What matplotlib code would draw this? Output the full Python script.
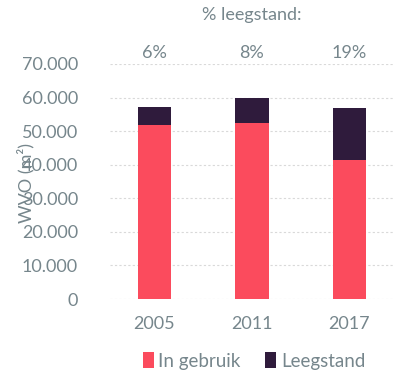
import matplotlib
matplotlib.use("Agg")
import matplotlib.pyplot as plt
from matplotlib.patches import Patch

# Data
years = ["2005", "2011", "2017"]
in_gebruik = [51800, 52500, 41400]
leegstand = [5300, 7400, 15600]
pct_labels = ["6%", "8%", "19%"]
y_ticks = [0, 10000, 20000, 30000, 40000, 50000, 60000, 70000]
y_tick_labels = ["0", "10.000", "20.000", "30.000", "40.000", "50.000", "60.000", "70.000"]

red = "#fb4b5d"
dark = "#2f1b3c"
txt = "#76868c"
font = "Lato"
fw = "normal"
fs = 13

fig = plt.figure(figsize=(3.97, 3.75), dpi=100)
ax = fig.add_axes([110 / 397, 1 - 299 / 375, (393 - 110) / 397, (299 - 64) / 375])

x = list(range(len(years)))
width = 0.34
ax.bar(x, in_gebruik, width=width, color=red, zorder=3)
ax.bar(x, leegstand, width=width, bottom=in_gebruik, color=dark, zorder=3)

ax.set_xlim(-0.456, 2.446)
ax.set_ylim(0, 70000)
ax.set_yticks(y_ticks)
ax.set_yticklabels(y_tick_labels, fontsize=fs, color=txt, family=font, weight=fw)
ax.set_xticks(x)
ax.set_xticklabels(years, fontsize=fs, color=txt, family=font, weight=fw)
ax.tick_params(axis="both", length=0)
ax.tick_params(axis="y", pad=23)
ax.tick_params(axis="x", pad=12)

ax.grid(axis="y", color="#d9d9d9", linestyle=(0, (2, 2)), linewidth=0.8, zorder=0)
for s in ax.spines.values():
    s.set_visible(False)

# vacancy percentages above the bars
for xi, lab in zip(x, pct_labels):
    ax.text(xi, 73300, lab, ha="center", va="center", fontsize=fs,
            color=txt, family=font, weight=fw, clip_on=False)
ax.text(1, 84600, "% leegstand:", ha="center", va="center", fontsize=fs,
        color=txt, family=font, weight=fw, clip_on=False)

fig.text(26 / 397, 1 - 183 / 375, "WVO (m²)", rotation=90, ha="center", va="center",
         fontsize=fs, color=txt, family=font, weight=fw)

handles = [Patch(facecolor=red, label="In gebruik"), Patch(facecolor=dark, label="Leegstand")]
leg = fig.legend(handles=handles, loc="center", bbox_to_anchor=(254 / 397, 1 - 361 / 375),
                 ncol=2, frameon=False, handlelength=0.6, handleheight=0.9,
                 handletextpad=0.25, columnspacing=1.3,
                 prop={"family": font, "size": 13.5, "weight": fw})
for t in leg.get_texts():
    t.set_color(txt)

fig.savefig("out.png", dpi=100, facecolor="white")
